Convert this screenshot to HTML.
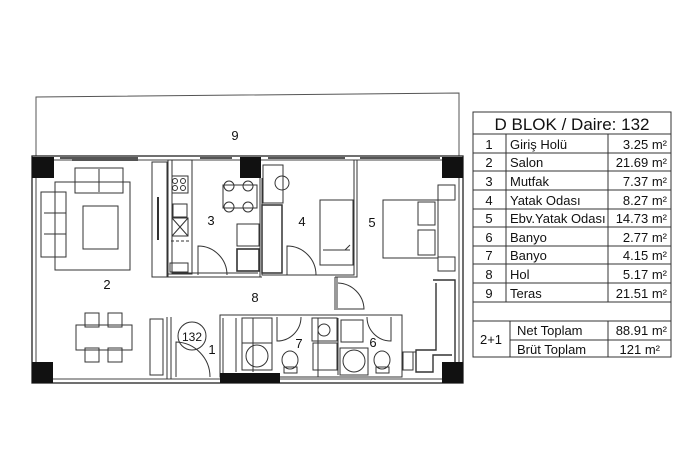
<!DOCTYPE html>
<html><head><meta charset="utf-8"><style>
html,body{margin:0;padding:0;background:#fff;width:700px;height:466px;overflow:hidden}
svg{display:block}
text{font-family:"Liberation Sans",sans-serif;fill:#111}
</style></head><body>
<svg width="700" height="466" viewBox="0 0 700 466" xmlns="http://www.w3.org/2000/svg">
<g fill="none" stroke="#333" stroke-width="1">
<!-- terrace -->
<path d="M36 156 L36 97 L459 93 L459 156" stroke="#555"/>
<!-- outer walls -->
<rect x="32" y="156" width="431" height="227" stroke="#222" stroke-width="1.3"/>
<rect x="36" y="160" width="423" height="219" stroke="#444"/>
<!-- windows top -->
<path d="M60 158 H138 M72 160 H138 M200 158 H232 M268 158 H345 M360 158 H440" stroke="#555" stroke-width="2"/>
<!-- fridge -->
<rect x="152" y="162" width="15" height="115"/>
<path d="M158 197 V240" stroke-width="2"/>
<!-- kitchen walls -->
<path d="M168 160 V277 H262 M172 160 V273 H258" />
<rect x="168" y="160" width="24" height="114"/>
<circle cx="175" cy="181" r="2.5"/><circle cx="183" cy="181" r="2.5"/><circle cx="175" cy="188" r="2.5"/><circle cx="183" cy="188" r="2.5"/>
<rect x="172" y="176" width="16" height="17"/>
<rect x="173" y="204" width="14" height="13"/>
<rect x="172" y="218" width="16" height="18"/>
<path d="M172 218 L188 236 M188 218 L172 236"/>
<path d="M171 241 H190" stroke-dasharray="3 2"/>
<rect x="170" y="263" width="18" height="9"/>
<!-- kitchen table -->
<rect x="223" y="185" width="34" height="23"/>
<circle cx="229" cy="186" r="5"/><circle cx="248" cy="186" r="5"/><circle cx="229" cy="207" r="5"/><circle cx="248" cy="207" r="5"/>
<rect x="237" y="224" width="22" height="22"/>
<rect x="237" y="249" width="22" height="22" stroke-width="1.6"/>
<!-- kitchen door -->
<path d="M198 275 V246 A29 29 0 0 1 227 275"/>
<!-- room 4 -->
<path d="M260 178 V277 M262 178 V275 H354 V160 M357 160 V277 H335 "/>
<rect x="263" y="165" width="20" height="38"/>
<circle cx="282" cy="183" r="7"/>
<rect x="262" y="205" width="20" height="68" stroke-width="1.5"/>
<rect x="320" y="200" width="33" height="65"/>
<path d="M323 250 H350 M345 250 l5 -5"/>
<path d="M287 275 V246 A29 29 0 0 1 316 275"/>
<!-- room 5 bed -->
<rect x="383" y="200" width="55" height="58"/>
<rect x="418" y="202" width="17" height="23"/>
<rect x="418" y="230" width="17" height="25"/>
<rect x="438" y="185" width="17" height="15"/>
<rect x="438" y="257" width="17" height="14"/>
<!-- hall door -->
<path d="M335 277 V310 M337 277 V310 M338 283 A27 27 0 0 1 364 309 H338"/>
<!-- wardrobe right -->
<path d="M433 280 H455 V372 M436 283 V350 H416 V372 H433 V355 H452" stroke-width="1.4"/>
<rect x="403" y="352" width="10" height="18"/>
<!-- living -->
<rect x="55" y="182" width="75" height="88"/>
<rect x="75" y="168" width="48" height="25"/>
<path d="M99 169 V192"/>
<rect x="83" y="206" width="35" height="43"/>
<rect x="41" y="192" width="25" height="65"/>
<path d="M44 213 H66 M44 234 H66"/>
<rect x="76" y="325" width="56" height="25"/>
<rect x="85" y="313" width="14" height="14"/><rect x="108" y="313" width="14" height="14"/>
<rect x="85" y="348" width="14" height="14"/><rect x="108" y="348" width="14" height="14"/>
<!-- entrance -->
<rect x="150" y="319" width="13" height="56"/>
<path d="M167 317 V379 M171 317 V379"/>
<path d="M176 377 V342 A35 35 0 0 1 210 377"/>
<circle cx="192" cy="336" r="14"/>
<!-- bathrooms -->
<rect x="220" y="315" width="182" height="62"/>
<path d="M223 318 V375 M236 318 V372 M253 318 V372 M318 318 V377 M338 318 V375"/>
<rect x="242" y="318" width="30" height="52"/>
<rect x="242" y="343" width="30" height="27"/>
<circle cx="257" cy="356" r="11"/>
<rect x="312" y="318" width="25" height="23"/><circle cx="324" cy="330" r="6"/>
<rect x="313" y="343" width="24" height="27"/>
<ellipse cx="290" cy="360" rx="8" ry="9"/><rect x="284" y="367" width="13" height="6"/>
<rect x="341" y="320" width="22" height="22"/>
<rect x="340" y="348" width="28" height="27"/><circle cx="354" cy="361" r="11"/>
<ellipse cx="382" cy="360" rx="8" ry="9"/><rect x="376" y="367" width="13" height="6"/>
<path d="M277 317 V341 A24 24 0 0 0 301 317"/>
<path d="M391 317 V341 A24 24 0 0 1 367 317"/>
<path d="M402 315 V352 H416"/>
</g>
<g fill="#111">
<rect x="32" y="157" width="22" height="21"/><rect x="240" y="157" width="21" height="21"/><rect x="442" y="157" width="21" height="21"/>
<rect x="32" y="362" width="21" height="21"/><rect x="442" y="362" width="21" height="21"/>
<rect x="220" y="373" width="60" height="10"/>
</g>
<g font-size="13" text-anchor="middle">
<text x="235" y="140">9</text><text x="211" y="225">3</text><text x="302" y="226">4</text><text x="372" y="227">5</text>
<text x="107" y="289">2</text><text x="255" y="302">8</text><text x="212" y="354">1</text><text x="299" y="348">7</text><text x="373" y="347">6</text>
<text x="192" y="341" font-size="12">132</text>
</g>
<!-- table -->
<g fill="none" stroke="#333" stroke-width="1">
<rect x="473" y="112" width="198" height="245"/>
<path d="M473 134 H671 M473 153 H671 M473 171 H671 M473 190 H671 M473 209 H671 M473 227 H671 M473 246 H671 M473 264 H671 M473 283 H671 M473 302 H671 M473 321 H671 M510 340 H671"/>
<path d="M506 134 V302 M608 134 V302 M510 321 V357 M608 321 V357"/>
</g>
<g font-size="13">
<text x="572" y="130" font-size="17" text-anchor="middle">D BLOK / Daire: 132</text>
<g text-anchor="middle">
<text x="489" y="149">1</text><text x="489" y="167">2</text><text x="489" y="186">3</text><text x="489" y="205">4</text><text x="489" y="223">5</text><text x="489" y="242">6</text><text x="489" y="260">7</text><text x="489" y="279">8</text><text x="489" y="298">9</text>
<text x="491" y="344">2+1</text>
</g>
<g>
<text x="510" y="149">Giriş Holü</text><text x="510" y="167">Salon</text><text x="510" y="186">Mutfak</text><text x="510" y="205">Yatak Odası</text><text x="510" y="223">Ebv.Yatak Odası</text><text x="510" y="242">Banyo</text><text x="510" y="260">Banyo</text><text x="510" y="279">Hol</text><text x="510" y="298">Teras</text>
<text x="517" y="335">Net Toplam</text><text x="517" y="354">Brüt Toplam</text>
</g>
<g text-anchor="end">
<text x="667" y="149">3.25 m²</text><text x="667" y="167">21.69 m²</text><text x="667" y="186">7.37 m²</text><text x="667" y="205">8.27 m²</text><text x="667" y="223">14.73 m²</text><text x="667" y="242">2.77 m²</text><text x="667" y="260">4.15 m²</text><text x="667" y="279">5.17 m²</text><text x="667" y="298">21.51 m²</text>
<text x="667" y="335">88.91 m²</text><text x="660" y="354">121 m²</text>
</g>
</g>
</svg>
</body></html>
